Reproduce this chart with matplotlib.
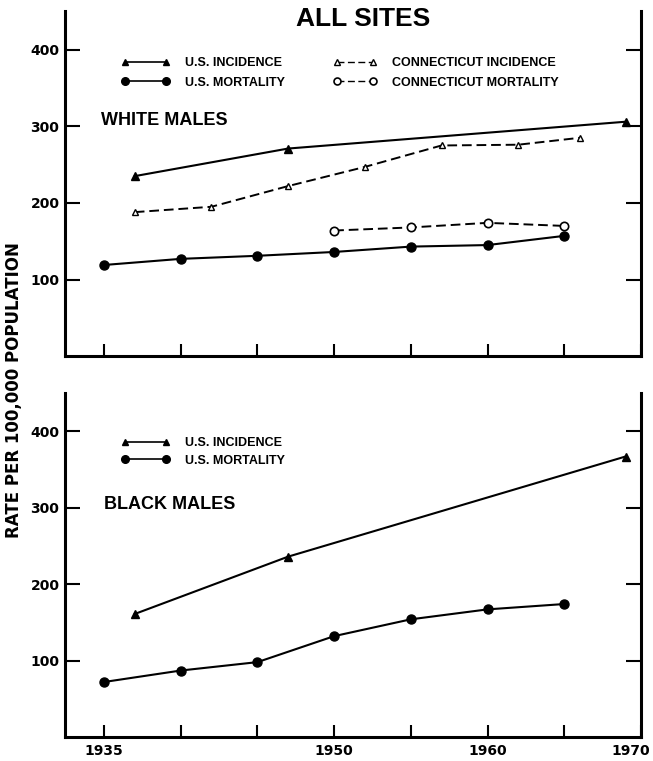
import matplotlib
matplotlib.use('Agg')
import matplotlib.pyplot as plt
from matplotlib.lines import Line2D
from matplotlib.transforms import ScaledTranslation

# White males
w_us_inc_years = [1937, 1947, 1969]
w_us_inc = [235, 271, 306]
w_ct_inc_years = [1937, 1942, 1947, 1952, 1957, 1962, 1966]
w_ct_inc = [188, 195, 222, 247, 275, 276, 285]
w_us_mort_years = [1935, 1940, 1945, 1950, 1955, 1960, 1965]
w_us_mort = [119, 127, 131, 136, 143, 145, 157]
w_ct_mort_years = [1950, 1955, 1960, 1965]
w_ct_mort = [164, 168, 174, 170]

# Black males
b_us_inc_years = [1937, 1947, 1969]
b_us_inc = [161, 236, 367]
b_us_mort_years = [1935, 1940, 1945, 1950, 1955, 1960, 1965]
b_us_mort = [72, 87, 98, 132, 154, 167, 174]

x_ticks = [1935, 1940, 1945, 1950, 1955, 1960, 1965, 1970]
x_labels = ['1935', '', '', '1950', '', '1960', '', '1970']
y_ticks = [100, 200, 300, 400]

BOLD = 'Liberation Sans'
TICKFONT = 'DejaVu Sans'

us_inc_style = dict(color='black', lw=1.5, marker='^', ms=5.5, mfc='black', mec='black')
us_mort_style = dict(color='black', lw=1.5, marker='o', ms=6.5, mfc='black', mec='black')
ct_inc_style = dict(color='black', lw=1.4, ls=(0, (5, 2.5)), marker='^', ms=5, mfc='white', mec='black', mew=1.0)
ct_mort_style = dict(color='black', lw=1.4, ls=(0, (5, 2.5)), marker='o', ms=6, mfc='white', mec='black', mew=1.2)

fig = plt.figure(figsize=(6.53, 7.61), dpi=100)
ax1 = fig.add_axes([0.0995, 0.532, 0.882, 0.453])
ax2 = fig.add_axes([0.0995, 0.0315, 0.882, 0.452])


def style_axes(ax, show_labels):
    ax.set_xlim(1932.45, 1970)
    ax.set_ylim(0, 450)
    ax.spines['top'].set_visible(False)
    for s in ['left', 'right', 'bottom']:
        ax.spines[s].set_linewidth(2.2)
    ax.set_xticks(x_ticks)
    ax.set_yticks(y_ticks)
    if show_labels:
        ax.set_xticklabels(x_labels)
    else:
        ax.set_xticklabels([])
    ax.tick_params(axis='x', direction='in', length=9, width=1.5, pad=5)
    ax.tick_params(axis='y', direction='in', length=11, width=1.5, pad=4, right=True)
    for lab in ax.get_xticklabels() + ax.get_yticklabels():
        lab.set_fontfamily(TICKFONT)
        lab.set_fontweight('bold')
        lab.set_fontsize(10)


# top panel
ax1.plot(w_us_inc_years, w_us_inc, **us_inc_style)
ax1.plot(w_ct_inc_years, w_ct_inc, **ct_inc_style)
ax1.plot(w_ct_mort_years, w_ct_mort, **ct_mort_style)
ax1.plot(w_us_mort_years, w_us_mort, **us_mort_style)
style_axes(ax1, False)
ax1.text(0.063, 0.685, 'WHITE MALES', transform=ax1.transAxes, fontfamily=BOLD,
         fontweight='bold', fontsize=13, va='center', ha='left')
fig.text(0.556, 0.975, 'ALL SITES', fontfamily=BOLD, fontweight='bold',
         fontsize=19, ha='center', va='center')

leg_prop = {'family': BOLD, 'weight': 'bold', 'size': 9}
h_us_inc = Line2D([], [], **{**us_inc_style, 'ms': 4.5, 'lw': 1.2})
h_us_mort = Line2D([], [], **{**us_mort_style, 'ms': 5.5, 'lw': 1.2})
h_ct_inc = Line2D([], [], **{**ct_inc_style, 'ms': 4, 'lw': 1.0})
h_ct_mort = Line2D([], [], **{**ct_mort_style, 'ms': 5, 'lw': 1.0})

leg1 = ax1.legend([h_us_inc, h_us_mort], ['U.S. INCIDENCE', 'U.S. MORTALITY'],
                  loc='upper left', bbox_to_anchor=(121 / 653, 1 - 57 / 761),
                  bbox_transform=fig.transFigure, frameon=False, prop=leg_prop,
                  numpoints=2, handlelength=3.9, handletextpad=1.2,
                  labelspacing=0.6, borderpad=0, borderaxespad=0)
ax1.add_artist(leg1)
ax1.legend([h_ct_inc, h_ct_mort], ['CONNECTICUT INCIDENCE', 'CONNECTICUT MORTALITY'],
           loc='upper left', bbox_to_anchor=(333 / 653, 1 - 57 / 761),
           bbox_transform=fig.transFigure, frameon=False, prop=leg_prop,
           numpoints=2, handlelength=3.5, handletextpad=1.2,
           labelspacing=0.6, borderpad=0, borderaxespad=0)

# bottom panel
ax2.plot(b_us_inc_years, b_us_inc, **us_inc_style)
ax2.plot(b_us_mort_years, b_us_mort, **us_mort_style)
style_axes(ax2, True)
ax2.text(0.068, 0.675, 'BLACK MALES', transform=ax2.transAxes, fontfamily=BOLD,
         fontweight='bold', fontsize=13, va='center', ha='left')
ax2.legend([h_us_inc, h_us_mort], ['U.S. INCIDENCE', 'U.S. MORTALITY'],
           loc='upper left', bbox_to_anchor=(121 / 653, 1 - 437 / 761),
           bbox_transform=fig.transFigure, frameon=False, prop=leg_prop,
           numpoints=2, handlelength=3.9, handletextpad=1.2,
           labelspacing=0.45, borderpad=0, borderaxespad=0)

# the last year label sits just inside the figure edge
last = ax2.get_xticklabels()[-1]
last.set_transform(last.get_transform() + ScaledTranslation(-7 / 72, 0, fig.dpi_scale_trans))

fig.text(0.021, 1 - 390 / 761, 'RATE PER 100,000 POPULATION', rotation=90,
         fontfamily=TICKFONT, fontweight='bold', fontsize=12, ha='center', va='center')

fig.savefig('out.png', dpi=100)
